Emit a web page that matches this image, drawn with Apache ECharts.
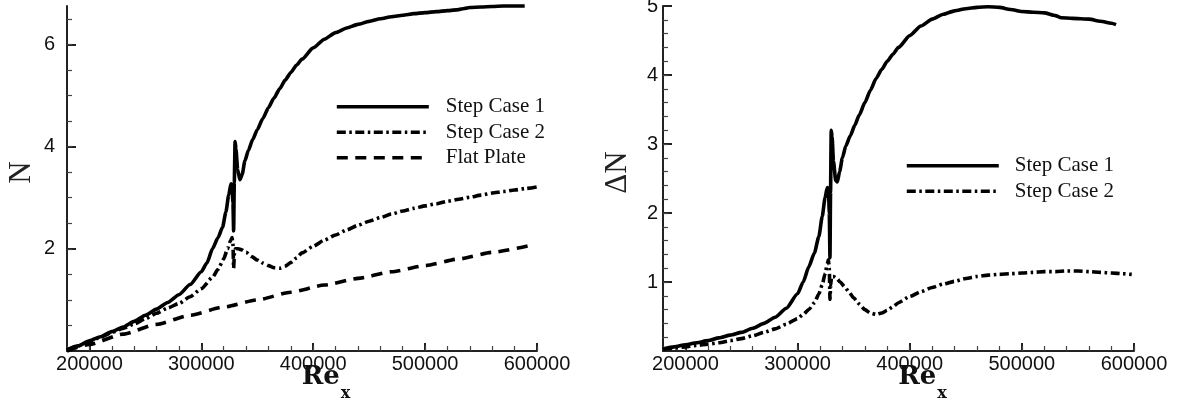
<!DOCTYPE html>
<html><head><meta charset="utf-8">
<script src="https://cdn.jsdelivr.net/npm/echarts@6/dist/echarts.min.js"></script>
<style>html,body{margin:0;padding:0;background:#fff}#c{width:1187px;height:408px}</style>
</head><body><div id="c"></div>
<script>
// ---------- Data ----------
// Left panel: N vs Re_x
const leftCase1Re = [180000,190000,200000,210000,220000,230000,240000,250000,260000,270000,280000,290000,300000,305000,310000,315000,319000,322000,324500,326500,327500,328300,328900,329500,330200,331000,332500,334500,336500,339000,342000,346000,350000,355000,360000,365000,370000,375000,380000,385000,390000,400000,410000,420000,430000,440000,450000,460000,470000,480000,490000,500000,510000,520000,530000,535000,540000,550000,560000,570000,580000,589000];
const leftCase1N  = [0.02,0.10,0.20,0.28,0.38,0.47,0.58,0.70,0.82,0.95,1.10,1.30,1.55,1.72,2.00,2.22,2.42,2.72,3.05,3.27,3.22,2.90,2.35,3.30,4.10,3.95,3.55,3.35,3.45,3.72,3.92,4.14,4.33,4.55,4.76,4.95,5.13,5.30,5.45,5.59,5.71,5.93,6.10,6.23,6.32,6.39,6.45,6.50,6.54,6.57,6.60,6.62,6.64,6.66,6.68,6.70,6.72,6.73,6.74,6.75,6.75,6.75];

const leftCase2Re = [180000,190000,200000,210000,220000,230000,240000,250000,260000,270000,280000,290000,300000,310000,315000,320000,323500,326000,327500,328300,328900,329600,330500,333000,336000,340000,345000,350000,355000,360000,365000,370000,375000,380000,385000,390000,400000,410000,420000,430000,440000,450000,460000,470000,480000,490000,500000,510000,520000,530000,540000,550000,560000,570000,580000,590000,600000];
const leftCase2N  = [0.02,0.10,0.18,0.27,0.36,0.44,0.53,0.63,0.74,0.84,0.93,1.06,1.22,1.44,1.60,1.80,2.00,2.15,2.22,2.10,1.62,1.90,2.00,2.00,1.98,1.93,1.85,1.78,1.72,1.67,1.63,1.62,1.66,1.73,1.82,1.92,2.05,2.17,2.27,2.37,2.46,2.54,2.61,2.68,2.74,2.79,2.84,2.88,2.93,2.97,3.01,3.05,3.09,3.12,3.15,3.18,3.21];

const flatRe = [180000,200000,230000,260000,290000,320000,350000,380000,410000,440000,470000,500000,530000,560000,593000];
const flatN  = [0.00,0.13,0.33,0.52,0.70,0.86,1.00,1.15,1.29,1.42,1.55,1.67,1.80,1.93,2.06];

// Right panel: ΔN vs Re_x
const rightCase1Re = [180000,190000,200000,210000,220000,230000,240000,250000,260000,270000,280000,290000,300000,305000,310000,315000,319000,322000,324500,326500,327500,328300,328900,329400,330000,330800,332000,334000,335500,337500,340000,343000,347000,351000,355000,360000,365000,370000,375000,380000,385000,390000,400000,410000,420000,430000,440000,450000,460000,470000,480000,490000,500000,510000,520000,530000,535000,545000,560000,570000,580000,584000];
const rightCase1N  = [0.03,0.06,0.09,0.12,0.15,0.19,0.23,0.27,0.33,0.40,0.49,0.62,0.83,1.00,1.22,1.42,1.66,1.95,2.22,2.37,2.36,2.00,1.35,2.30,3.20,3.10,2.75,2.47,2.45,2.60,2.80,2.97,3.12,3.27,3.42,3.60,3.78,3.95,4.08,4.20,4.30,4.40,4.57,4.71,4.81,4.88,4.93,4.96,4.98,4.99,4.98,4.95,4.92,4.91,4.90,4.86,4.83,4.82,4.81,4.78,4.75,4.73];

const rightCase2Re = [180000,190000,200000,210000,220000,230000,240000,250000,260000,270000,280000,290000,300000,305000,310000,315000,319000,322000,324500,326500,327500,328300,328900,329500,330300,332000,335000,338000,342000,346000,350000,355000,360000,365000,370000,375000,380000,385000,390000,400000,410000,420000,430000,440000,450000,460000,470000,480000,490000,500000,510000,520000,530000,540000,550000,560000,570000,580000,590000,598000];
const rightCase2N  = [0.03,0.04,0.06,0.08,0.10,0.12,0.15,0.18,0.22,0.27,0.32,0.39,0.47,0.53,0.60,0.70,0.83,0.96,1.12,1.26,1.32,1.20,0.75,0.95,1.08,1.08,1.05,1.00,0.93,0.85,0.77,0.68,0.60,0.55,0.53,0.55,0.59,0.64,0.70,0.79,0.86,0.92,0.97,1.01,1.05,1.08,1.10,1.11,1.12,1.13,1.14,1.15,1.15,1.16,1.16,1.15,1.14,1.13,1.12,1.11];

// Tick labels / tick positions
const xMajorTicks = [200000,300000,400000,500000,600000];
const leftYLabels = [2,4,6];
const leftYMinor  = [0.5,1,1.5,2,2.5,3,3.5,4,4.5,5,5.5,6,6.5];
const rightYLabels = [1,2,3,4,5];
const rightYMinor  = [0.2,0.4,0.6,0.8,1,1.2,1.4,1.6,1.8,2,2.2,2.4,2.6,2.8,3,3.2,3.4,3.6,3.8,4,4.2,4.4,4.6,4.8];

const leftLegend = ['Step Case 1','Step Case 2','Flat Plate'];
const rightLegend = ['Step Case 1','Step Case 2'];

// ---------- Styles ----------
const SOLID = 'solid';
const DASHDOT = [9, 3.5, 2.5, 3.5];
const DASHED = [11, 7.5];
const LW = 3.6;
const tickFont = {fontFamily:'Liberation Sans', fontSize:20, color:'#111'};

function zip(a, b){ return a.map((v,i)=>[v,b[i]]); }

function mainX(grid){
  return {
    type:'value', gridIndex:grid, min:180000, max:600000, position:'bottom',
    axisLine:{show:true, onZero:false, lineStyle:{color:'#222', width:2}},
    axisTick:{show:true, inside:true, length:8, customValues:xMajorTicks, lineStyle:{color:'#222', width:2}},
    axisLabel:Object.assign({show:true, margin:3, customValues:xMajorTicks, formatter:v=>String(v)}, tickFont),
    splitLine:{show:false},
    name:'{a|Re}{b|x}', nameLocation:'middle', nameGap:13, nameMoveOverlap:false,
    nameTextStyle:{padding:[0,0,0,48], rich:{
      a:{fontFamily:'DejaVu Serif', fontWeight:'bold', fontSize:26, lineHeight:26, verticalAlign:'top', color:'#111'},
      b:{fontFamily:'DejaVu Serif', fontWeight:'bold', fontSize:16, lineHeight:14, padding:[22,0,0,1], verticalAlign:'top', color:'#111'}
    }}
  };
}
function minorX(grid){
  return {
    type:'value', gridIndex:grid, min:180000, max:600000, interval:20000, position:'bottom',
    axisLine:{show:false, onZero:false},
    axisTick:{show:true, inside:true, length:5, lineStyle:{color:'#444', width:1.2}},
    axisLabel:{show:false}, splitLine:{show:false}
  };
}
function mainY(grid, max, labels, name, margin){
  return {
    type:'value', gridIndex:grid, min:0, max:max, position:'left',
    axisLine:{show:true, onZero:false, lineStyle:{color:'#222', width:2}},
    axisTick:{show:true, inside:true, length:9, customValues:labels, lineStyle:{color:'#222', width:2}},
    axisLabel:Object.assign({show:true, margin:margin, customValues:labels}, tickFont),
    splitLine:{show:false},
    name:name, nameLocation:'middle', nameGap:30, nameMoveOverlap:false,
    nameTextStyle:{fontFamily:'Liberation Serif', fontSize:31, color:'#222', padding:[0,0,0,12]}
  };
}
function minorY(grid, max, ticks){
  return {
    type:'value', gridIndex:grid, min:0, max:max, position:'left',
    axisLine:{show:false, onZero:false},
    axisTick:{show:true, inside:true, length:5, customValues:ticks, lineStyle:{color:'#444', width:1.2}},
    axisLabel:{show:false}, splitLine:{show:false}
  };
}
function lineSeries(name, xs, ys, xi, yi, type){
  return {
    type:'line', name:name, xAxisIndex:xi, yAxisIndex:yi, data:zip(xs, ys),
    showSymbol:false, symbol:'none', smooth:0.2, smoothMonotone:'x', clip:false, silent:true,
    lineStyle:{color:'#000', width:LW, type:type, cap:'butt', join:'round'},
    itemStyle:{color:'#000'}
  };
}
function legend(data, left, top, pad){
  return {
    data:data, orient:'vertical', left:left, top:top, padding:0, itemWidth:92, itemHeight:14, itemGap:0,
    selectedMode:false,
    itemStyle:{color:'rgba(0,0,0,0)', borderWidth:0, opacity:0},
    lineStyle:{width:'inherit'},
    textStyle:{fontFamily:'Liberation Serif', fontSize:21, color:'#111', lineHeight:25.5, padding:[0,0,0,pad]}
  };
}

const chart = echarts.init(document.getElementById('c'), null, {renderer:'canvas'});
chart.setOption({
  animation:false,
  backgroundColor:'#fff',
  grid:[
    {left:67, right:650, top:6, bottom:57, containLabel:false, outerBoundsMode:'none'},
    {left:663, right:53, top:6, bottom:57, containLabel:false, outerBoundsMode:'none'}
  ],
  xAxis:[mainX(0), minorX(0), mainX(1), minorX(1)],
  yAxis:[mainY(0, 6.75, leftYLabels, 'N', 12), minorY(0, 6.75, leftYMinor),
         mainY(1, 5, rightYLabels, 'ΔN', 5), minorY(1, 5, rightYMinor)],
  legend:[legend(leftLegend, 335, 94, 12), legend(rightLegend, 905, 153, 11)],
  series:[
    lineSeries('Step Case 1', leftCase1Re, leftCase1N, 0, 0, SOLID),
    lineSeries('Step Case 2', leftCase2Re, leftCase2N, 0, 0, DASHDOT),
    lineSeries('Flat Plate', flatRe, flatN, 0, 0, DASHED),
    lineSeries('Step Case 1', rightCase1Re, rightCase1N, 2, 2, SOLID),
    lineSeries('Step Case 2', rightCase2Re, rightCase2N, 2, 2, DASHDOT)
  ]
});
</script>
</body></html>
